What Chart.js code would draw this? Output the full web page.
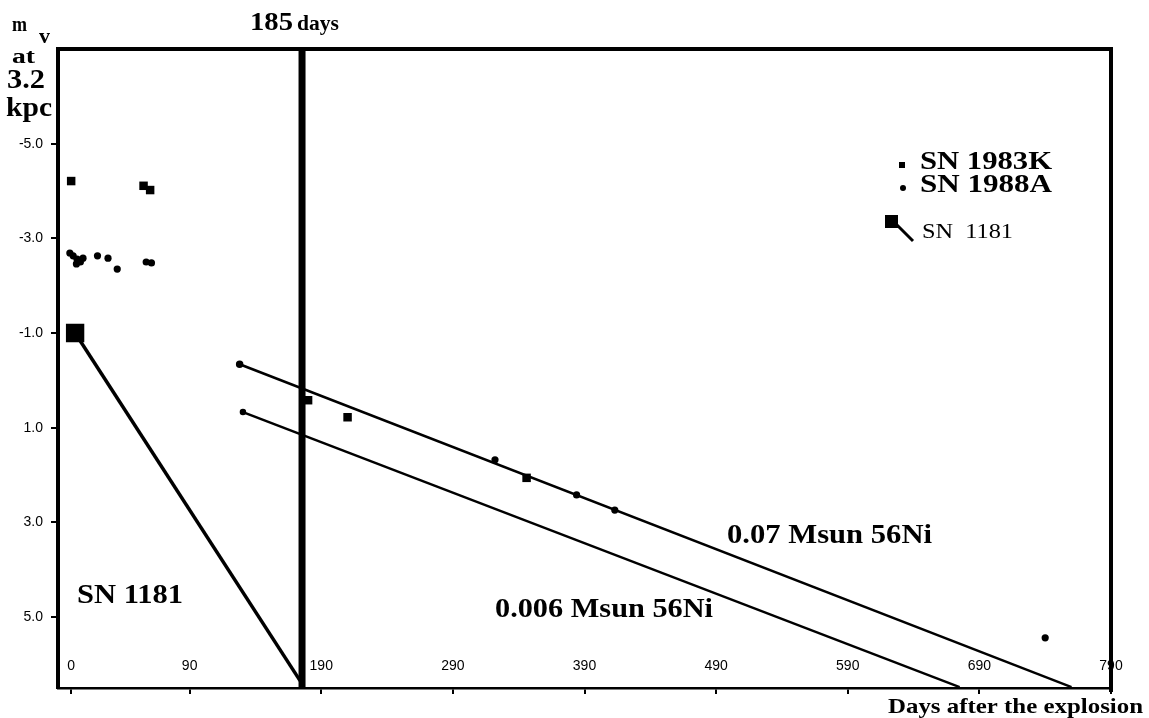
<!DOCTYPE html>
<html>
<head>
<meta charset="utf-8">
<script src="https://cdn.jsdelivr.net/npm/chart.js@4.4.0/dist/chart.umd.min.js"></script>
<style>
  html, body { margin: 0; padding: 0; background: #fff; }
  #wrap { width: 1149px; height: 718px; }
</style>
</head>
<body>
<div id="wrap"><canvas id="c" width="1149" height="718"></canvas></div>
<script>
// ---------- data ----------
const xTickDays = [0, 90, 190, 290, 390, 490, 590, 690, 790];
const yTickMags = [-5, -3, -1, 1, 3, 5];

// SN 1983K (squares)
const sn1983kDays = [0, 55, 60, 180, 210, 346];
const sn1983kMags = [-4.21, -4.11, -4.02, 0.42, 0.78, 2.06];

// SN 1988A (dots)
const sn1988aDays = [-1, 1.5, 4.5, 7, 4, 9, 20, 28, 35, 57, 61, 322, 384, 413, 740];
const sn1988aMags = [-2.69, -2.63, -2.56, -2.5, -2.46, -2.58, -2.63, -2.58, -2.35, -2.5, -2.48, 1.68, 2.42, 2.74, 5.44];

// SN 1181 decline line
const sn1181Days = [3, 174];
const sn1181Mags = [-1.0, 6.35];

// 0.07 Msun 56Ni decay line
const ni007Days = [128, 760];
const ni007Mags = [-0.34, 6.48];

// 0.006 Msun 56Ni decay line
const ni0006Days = [130.5, 675];
const ni0006Mags = [0.67, 6.48];

// thick vertical "185 days" marker (position as drawn)
const markerDay = [175.4, 175.4];
const markerMags = [-7, 6.5];

const xMin = -10, xMax = 790, yMin = -7, yMax = 6.5;

function pts(xs, ys) { return xs.map((x, i) => ({ x: x, y: ys[i] })); }

function txt(ctx, s, x, base, size, weight, width) {
  ctx.save();
  ctx.font = weight + ' ' + size + 'px "Liberation Serif"';
  ctx.textAlign = 'left';
  ctx.textBaseline = 'alphabetic';
  ctx.fillStyle = '#000';
  const w = ctx.measureText(s).width;
  ctx.translate(x, base);
  ctx.scale(width / w, 1);
  ctx.fillText(s, 0, 0);
  ctx.restore();
}

const decor = {
  id: 'decor',
  afterDraw(chart) {
    const ctx = chart.ctx;
    const a = chart.chartArea;
    const xs = chart.scales.x;
    ctx.save();
    ctx.strokeStyle = '#000';
    ctx.lineCap = 'butt';
    // top & right frame
    ctx.lineWidth = 4;
    ctx.beginPath();
    ctx.moveTo(a.left - 2, a.top);
    ctx.lineTo(a.right, a.top);
    ctx.moveTo(a.right, a.top - 2);
    ctx.lineTo(a.right, a.bottom + 4);
    ctx.stroke();

    // x tick labels, drawn inside the plot just above the axis
    ctx.font = '14px "Liberation Sans"';
    ctx.fillStyle = '#000';
    ctx.textAlign = 'center';
    ctx.textBaseline = 'middle';
    xTickDays.forEach(v => {
      ctx.fillText(String(v), xs.getPixelForValue(v), a.bottom - 22);
    });

    // axis labels
    txt(ctx, 'm', 12, 31, 20, 'bold', 15);
    txt(ctx, 'v', 39, 43, 20, 'bold', 11);
    txt(ctx, 'at', 12, 63, 20, 'bold', 23);
    txt(ctx, '3.2', 7, 88, 27, 'bold', 38);
    txt(ctx, 'kpc', 6, 116, 27, 'bold', 46);
    txt(ctx, '185', 250, 30, 26, 'bold', 43);
    txt(ctx, 'days', 297, 30, 20, 'bold', 42);
    txt(ctx, 'Days after the explosion', 888, 713, 22, 'bold', 255);

    // annotations
    txt(ctx, 'SN 1181', 77, 603, 28, 'bold', 106);
    txt(ctx, '0.07 Msun 56Ni', 727, 543, 28, 'bold', 205);
    txt(ctx, '0.006 Msun 56Ni', 495, 617, 28, 'bold', 218);

    // legend
    ctx.fillStyle = '#000';
    ctx.fillRect(899, 162, 6, 6);
    txt(ctx, 'SN 1983K', 920, 169, 25, 'bold', 132);
    ctx.beginPath();
    ctx.arc(903, 188, 3, 0, Math.PI * 2);
    ctx.fill();
    txt(ctx, 'SN 1988A', 920, 192, 25, 'bold', 132);
    ctx.fillRect(885, 215, 13, 13);
    ctx.lineWidth = 3;
    ctx.beginPath();
    ctx.moveTo(896, 224);
    ctx.lineTo(913, 241);
    ctx.stroke();
    txt(ctx, 'SN  1181', 922, 238, 21, 'normal', 91);
    ctx.restore();
  }
};

Chart.defaults.font.family = '"Liberation Sans", Arial, sans-serif';
Chart.defaults.color = '#000';

new Chart(document.getElementById('c'), {
  type: 'scatter',
  data: {
    datasets: [
      { label: 'marker', data: pts(markerDay, markerMags), showLine: true, borderColor: '#000', borderWidth: 7, pointRadius: 0 },
      { label: 'SN 1983K', data: pts(sn1983kDays, sn1983kMags), pointStyle: 'rect', pointRadius: 6, backgroundColor: '#000', borderColor: '#000', borderWidth: 0 },
      { label: 'SN 1988A', data: pts(sn1988aDays, sn1988aMags), pointStyle: 'circle', pointRadius: 3.6, backgroundColor: '#000', borderColor: '#000', borderWidth: 0 },
      { label: 'SN 1181', data: pts(sn1181Days, sn1181Mags), showLine: true, borderColor: '#000', borderWidth: 3.5, pointStyle: 'rect', pointRadius: [10.5, 0], backgroundColor: '#000' },
      { label: '0.07 Msun 56Ni', data: pts(ni007Days, ni007Mags), showLine: true, borderColor: '#000', borderWidth: 2.5, pointRadius: [2.5, 0], backgroundColor: '#000' },
      { label: '0.006 Msun 56Ni', data: pts(ni0006Days, ni0006Mags), showLine: true, borderColor: '#000', borderWidth: 2.5, pointRadius: [2, 0], backgroundColor: '#000' }
    ]
  },
  options: {
    responsive: false,
    devicePixelRatio: 1,
    animation: false,
    layout: { padding: { top: 49, right: 38, bottom: 0, left: 0 } },
    plugins: { legend: { display: false }, tooltip: { enabled: false } },
    scales: {
      x: {
        type: 'linear', min: xMin, max: xMax,
        afterBuildTicks: s => { s.ticks = xTickDays.map(v => ({ value: v })); },
        afterFit: s => { s.height = 30; },
        ticks: { display: false },
        grid: { drawOnChartArea: false, drawTicks: true, tickLength: 6, color: '#000', lineWidth: 2 },
        border: { display: true, color: '#000', width: 2.5 }
      },
      y: {
        type: 'linear', min: yMin, max: yMax, reverse: true,
        afterBuildTicks: s => { s.ticks = yTickMags.map(v => ({ value: v })); },
        afterFit: s => { s.width = 58; },
        ticks: { padding: 8, font: { size: 14 }, callback: v => v.toFixed(1) },
        grid: { drawOnChartArea: false, drawTicks: true, tickLength: 7, color: '#000', lineWidth: 2 },
        border: { display: true, color: '#000', width: 4 }
      }
    }
  },
  plugins: [decor]
});
</script>
</body>
</html>
